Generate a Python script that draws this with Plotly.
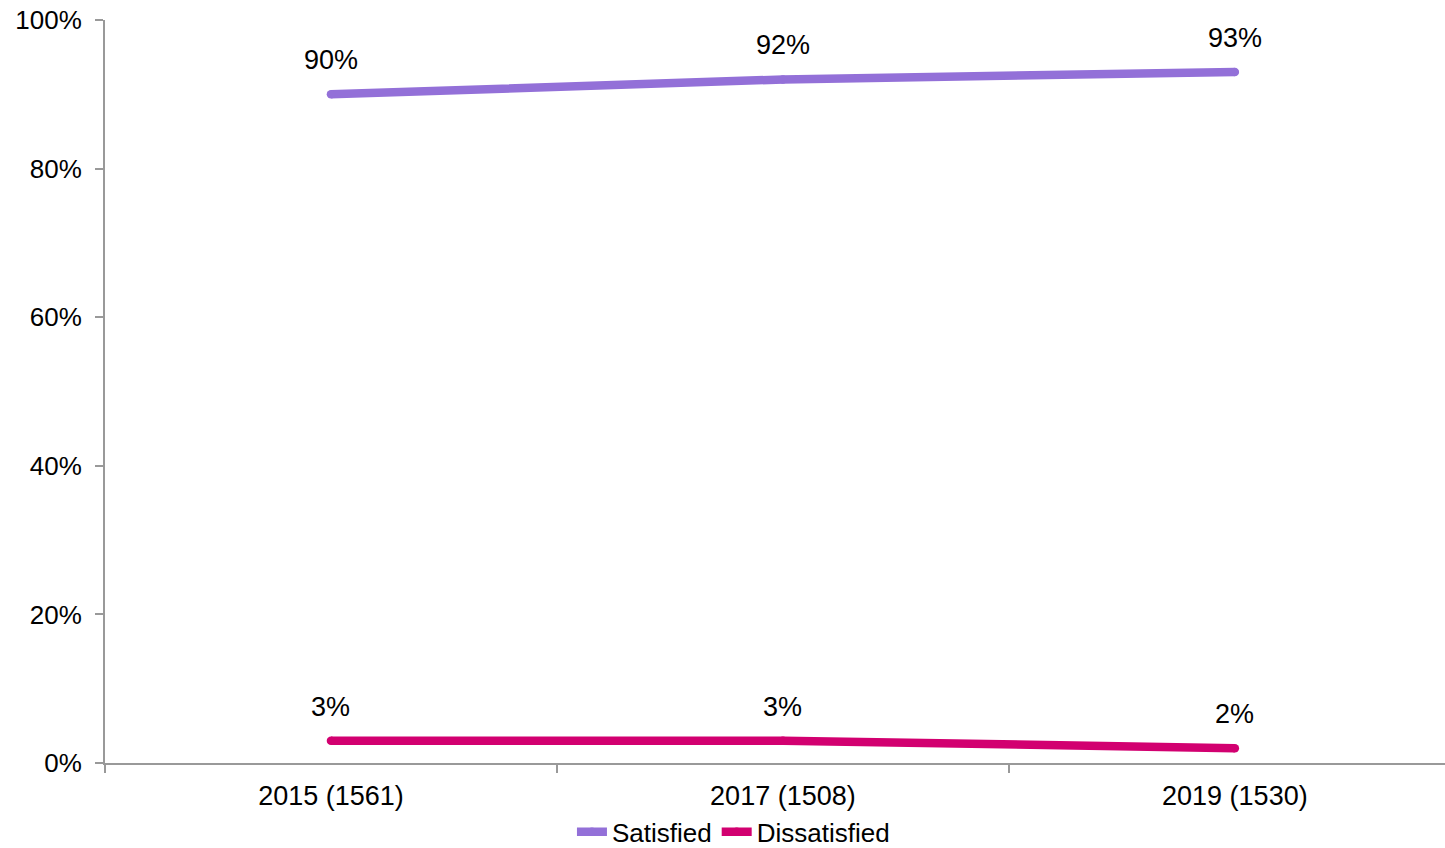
import plotly.graph_objects as go

categories = ["2015 (1561)", "2017 (1508)", "2019 (1530)"]
satisfied = [90, 92, 93]
dissatisfied = [3, 3, 2]
series_names = ["Satisfied", "Dissatisfied"]
series_colors = ["#9370D8", "#D20070"]
y_tick_vals = [0, 20, 40, 60, 80, 100]
y_tick_text = ["0%", "20%", "40%", "60%", "80%", "100%"]

FONT = "Liberation Sans, Arial, sans-serif"

fig = go.Figure()
annotations = []
for name, vals, col in zip(series_names, [satisfied, dissatisfied], series_colors):
    fig.add_trace(go.Scatter(
        x=categories, y=vals, name=name, mode="lines+markers",
        line=dict(color=col, width=8.5),
        marker=dict(color=col, size=8.5, line=dict(width=0)),
        hoverinfo="skip",
    ))
    for c, v in zip(categories, vals):
        annotations.append(dict(
            x=c, y=v, xref="x", yref="y", text=f"{v}%", showarrow=False,
            yshift=34, yanchor="middle", xanchor="center",
            font=dict(family=FONT, size=27, color="#000000"),
        ))

fig.update_layout(
    width=1445, height=848,
    margin=dict(l=105, r=0, t=20, b=85, autoexpand=False),
    paper_bgcolor="white", plot_bgcolor="white",
    font=dict(family=FONT, size=26, color="#000000"),
    showlegend=True,
    legend=dict(orientation="h", x=0.469, xanchor="center",
                yref="container", y=0.019, yanchor="middle",
                font=dict(family=FONT, size=26, color="#000000"),
                itemwidth=30, tracegroupgap=0, bgcolor="rgba(0,0,0,0)"),
    annotations=annotations,
)
fig.update_xaxes(
    type="category", range=[-0.5, 2.465], showgrid=False,
    showline=True, linecolor="#999999", linewidth=2,
    ticks="outside", tickson="boundaries", ticklen=8, tickcolor="#999999", tickwidth=2,
    tickfont=dict(family=FONT, size=27, color="#000000"),
    ticklabelstandoff=8, automargin=False,
    zeroline=False,
)
fig.update_yaxes(
    range=[0, 100], tickvals=y_tick_vals, ticktext=y_tick_text, showgrid=False,
    showline=True, linecolor="#999999", linewidth=2,
    ticks="outside", ticklen=8, tickcolor="#999999", tickwidth=2,
    tickfont=dict(family=FONT, size=26, color="#000000"),
    ticklabelstandoff=8, automargin=False,
    zeroline=False,
)

fig.write_html("out.html", config={"displayModeBar": False},
               post_script="document.body.style.margin='0';")
